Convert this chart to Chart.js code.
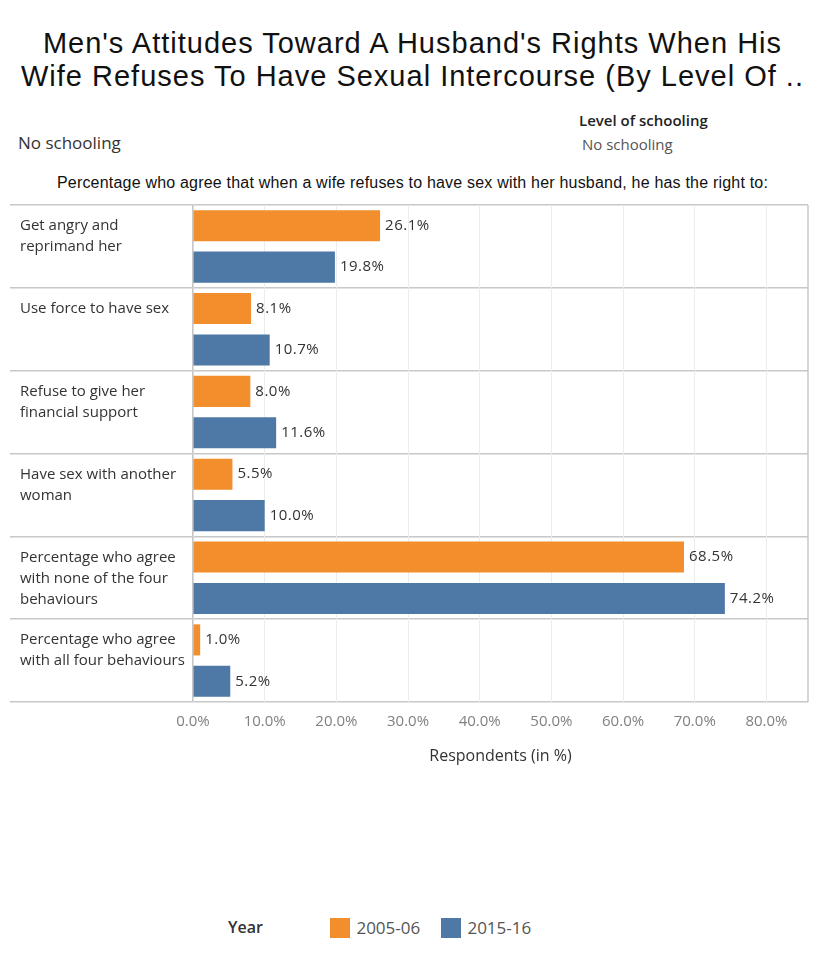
<!DOCTYPE html>
<html>
<head>
<meta charset="utf-8">
<script src="https://cdn.jsdelivr.net/npm/chart.js@4"></script>
<style>
  body { margin: 0; background: #fff; width: 825px; height: 962px; position: relative; overflow: hidden; font-family: "Open Sans", sans-serif; }
  .title { position: absolute; top: 27px; left: 0; width: 825px; text-align: center; font-family: "Liberation Sans", Arial, sans-serif; font-size: 29px; letter-spacing: 1px; line-height: 33px; color: #111; }
  .lbl { position: absolute; white-space: nowrap; }
  #chartWrap { position: absolute; left: 0; top: 195px; }
  .sw { display: inline-block; width: 20px; height: 20px; vertical-align: -4px; margin-right: 2px; }
</style>
</head>
<body>
<div class="title">Men's Attitudes Toward A Husband's Rights When His<br>Wife Refuses To Have Sexual Intercourse (By Level Of ..</div>
<div class="lbl" style="left:18px; top:131px; font-size:17px; color:#333;">No schooling</div>
<div class="lbl" style="left:579px; top:110px; font-size:15px; color:#222; font-weight:600;">Level of schooling</div>
<div class="lbl" style="left:582px; top:134px; font-size:15px; color:#555;">No schooling</div>
<div class="lbl" style="left:0; width:825px; text-align:center; top:174px; font-family:'Liberation Sans', Arial, sans-serif; font-size:16px; letter-spacing:0.2px; color:#111;">Percentage who agree that when a wife refuses to have sex with her husband, he has the right to:</div>
<div id="chartWrap"><canvas id="barChart" width="825" height="590"></canvas></div>
<div class="lbl" style="left:228px; top:916px; font-size:16px; color:#333; font-weight:600;">Year</div>
<div class="lbl" style="left:330px; top:916px; font-size:17px; color:#555;"><span class="sw" style="background:#F28E2B;"></span> 2005-06</div>
<div class="lbl" style="left:441px; top:916px; font-size:17px; color:#555;"><span class="sw" style="background:#4E79A7;"></span> 2015-16</div>
<script>
const categories = [
    ['Get angry and', 'reprimand her'],
    ['Use force to have sex'],
    ['Refuse to give her', 'financial support'],
    ['Have sex with another', 'woman'],
    ['Percentage who agree', 'with none of the four', 'behaviours'],
    ['Percentage who agree', 'with all four behaviours'],
];
const years = ['2005-06', '2015-16'];
const values0506 = [26.1, 8.1, 8.0, 5.5, 68.5, 1.0];
const values1516 = [19.8, 10.7, 11.6, 10.0, 74.2, 5.2];
const xTicks = [0, 10, 20, 30, 40, 50, 60, 70, 80];

// category labels drawn at the top of each row, like the original table
const rowLabels = {
    id: 'rowLabels',
    afterDraw(chart) {
        const ctx = chart.ctx;
        const y = chart.scales.y;
        const rowH = y.getPixelForValue(1) - y.getPixelForValue(0);
        ctx.save();
        ctx.font = '15px "Open Sans"';
        ctx.fillStyle = '#333';
        ctx.textAlign = 'left';
        ctx.textBaseline = 'middle';
        categories.forEach((lines, i) => {
            const top = y.getPixelForValue(i) - rowH / 2;
            lines.forEach((t, j) => ctx.fillText(t, 20, top + 21 + j * 21));
        });
        // right border of the table
        const a = chart.chartArea;
        ctx.strokeStyle = '#c8c8c8';
        ctx.lineWidth = 1.5;
        ctx.beginPath();
        ctx.moveTo(a.right, a.top);
        ctx.lineTo(a.right, a.bottom);
        ctx.stroke();
        ctx.restore();
    }
};

// value labels at the end of every bar
const barValues = {
    id: 'barValues',
    afterDatasetsDraw(chart) {
        const ctx = chart.ctx;
        ctx.save();
        ctx.font = '15px "Open Sans"';
        ctx.letterSpacing = '0.5px';
        ctx.fillStyle = '#333';
        ctx.textAlign = 'left';
        ctx.textBaseline = 'middle';
        chart.data.datasets.forEach((ds, d) => {
            chart.getDatasetMeta(d).data.forEach((bar, i) => {
                ctx.fillText(ds.data[i].toFixed(1) + '%', bar.x + 5, bar.y);
            });
        });
        ctx.restore();
    }
};

const data = {
    labels: categories,
    datasets: [{
        label: years[0],
        backgroundColor: '#F28E2B',
        data: values0506,
    }, {
        label: years[1],
        backgroundColor: '#4E79A7',
        data: values1516,
    }]
};

const config = {
    type: 'bar',
    data: data,
    options: {
        indexAxis: 'y',
        responsive: false,
        animation: false,
        layout: { padding: { left: 10, right: 17, top: 10, bottom: 0 } },
        categoryPercentage: 1,
        barPercentage: 0.75,
        plugins: { legend: { display: false }, tooltip: { enabled: false } },
        scales: {
            y: {
                ticks: { display: false },
                grid: { offset: true, color: '#c8c8c8', lineWidth: 1.5, drawTicks: true, tickLength: 183 },
                border: { display: true, color: '#c8c8c8', width: 1.5 },
                afterFit(scale) { scale.width = 183; }
            },
            x: {
                min: 0,
                max: 85.8,
                afterBuildTicks(scale) { scale.ticks = xTicks.map(v => ({ value: v })); },
                ticks: {
                    padding: 11,
                    color: '#808080',
                    font: { family: 'Open Sans', size: 15 },
                    callback: v => v.toFixed(1) + '%'
                },
                grid: { color: '#ececec', drawTicks: false },
                border: { display: false },
                title: {
                    display: true,
                    text: 'Respondents (in %)',
                    color: '#333',
                    font: { family: 'Open Sans', size: 16 },
                    padding: { top: 0, bottom: 19 }
                },
                afterFit(scale) { scale.height = 83; }
            }
        }
    },
    plugins: [rowLabels, barValues]
};

const myBarChart = new Chart(document.getElementById('barChart'), config);
</script>
</body>
</html>
